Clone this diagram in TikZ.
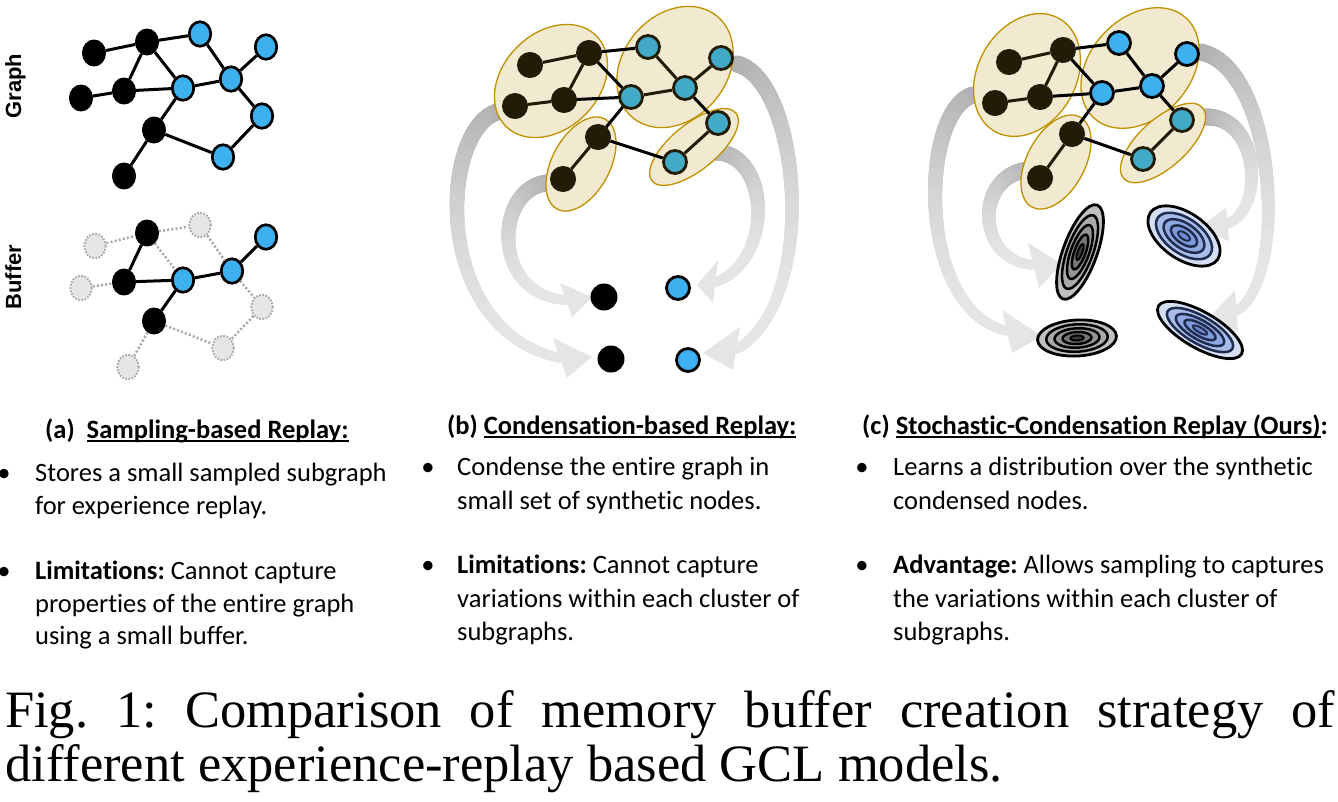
\documentclass[tikz,border=0pt]{standalone}
\usepackage{fontspec}
\setmainfont{Carlito}[Ligatures=NoCommon]
\newfontfamily\capfont{Liberation Serif}
\newfontfamily\lblfont{Liberation Sans}
\usetikzlibrary{shapes.geometric,decorations.markings}
\frenchspacing
\definecolor{nodeblue}{RGB}{61,177,240}
\definecolor{nodeteal}{RGB}{66,169,199}
\definecolor{darknode}{RGB}{35,27,3}
\definecolor{tanfill}{RGB}{242,234,208}
\definecolor{tanline}{RGB}{191,145,0}
\definecolor{ghostfill}{RGB}{230,230,230}
\definecolor{ghostline}{RGB}{168,168,168}
\definecolor{ga}{RGB}{192,192,192}
\definecolor{gb}{RGB}{170,170,170}
\definecolor{gc}{RGB}{148,148,148}
\definecolor{gd}{RGB}{118,118,118}
\definecolor{ge}{RGB}{60,60,60}
\definecolor{ua}{RGB}{212,223,245}
\definecolor{ub}{RGB}{168,188,233}
\definecolor{uc}{RGB}{143,167,224}
\definecolor{ud}{RGB}{126,154,218}
\definecolor{ue}{RGB}{108,138,208}
\definecolor{navy}{RGB}{32,44,78}
\tikzset{
  blk/.style={ellipse, fill=black, draw=black, line width=1pt, minimum width=23pt, minimum height=26pt, inner sep=0pt},
  blu/.style={ellipse, fill=nodeblue, draw=black, line width=2.7pt, minimum width=21.5pt, minimum height=24.5pt, inner sep=0pt},
  ghost/.style={ellipse, fill=ghostfill, draw=ghostline, line width=2pt, dash pattern=on 1.6pt off 1.6pt, minimum width=21.5pt, minimum height=24.5pt, inner sep=0pt},
  cnode/.style={circle, fill=darknode, draw=darknode, line width=1pt, minimum size=25pt, inner sep=0pt},
  tnode/.style={circle, fill=nodeteal, draw=darknode, line width=2.8pt, minimum size=23pt, inner sep=0pt},
  bnode/.style={circle, fill=nodeblue, draw=black, line width=2.8pt, minimum size=23pt, inner sep=0pt},
  kdot/.style={circle, fill=black, minimum size=27pt, inner sep=0pt},
  edg/.style={line width=3pt, black},
  dedg/.style={line width=3pt, darknode},
  gedg/.style={line width=2.5pt, ghostline, dash pattern=on 2pt off 2.2pt},
  clus/.style={fill=tanfill, draw=tanline, line width=1.3pt},
  txt/.style={anchor=base west, inner sep=0pt, font=\fontsize{26.5}{32}\selectfont},
  hd/.style={anchor=base west, inner sep=0pt, font=\fontsize{26.5}{32}\selectfont\bfseries},
  bul/.style={anchor=base, inner sep=0pt, font=\fontsize{26.5}{32}\selectfont},
  gband/.style={postaction={decorate}, decoration={markings,
    mark=between positions 0 and 1 step 1pt with {%
      \pgfmathsetmacro\gt{\pgfkeysvalueof{/pgf/decoration/mark info/distance from start}/\pgfdecoratedpathlength}%
      \pgfmathtruncatemacro\gpc{10+22*(1-\gt)^2}%
      \pgfmathsetmacro\grr{8.5-3.5*\gt}%
      \fill[black!\gpc] (0,0) circle[radius=\grr pt];%
    }}}
}
\newcommand\garrow[7]{\path[gband] #1 .. controls #2 and #3 .. #4; \fill[black!10] #5 -- #6 -- #7 -- cycle;}
\newcommand\gaussring[6]{%
  \begin{scope}[shift={#1}, rotate=#2]
    \filldraw[fill=#5a, draw=black, line width=2.8pt] (0,0) ellipse [x radius=#3, y radius=#4];
    \filldraw[fill=#5b, draw=#6, line width=2.5pt] (0,0) ellipse [x radius=0.78*#3, y radius=0.76*#4];
    \filldraw[fill=#5c, draw=#6, line width=2.5pt] (0,0) ellipse [x radius=0.57*#3, y radius=0.54*#4];
    \filldraw[fill=#5d, draw=#6, line width=2.5pt] (0,0) ellipse [x radius=0.37*#3, y radius=0.33*#4];
    \filldraw[fill=#5e, draw=#6, line width=2pt] (0,0) ellipse [x radius=0.17*#3, y radius=0.14*#4];
  \end{scope}}
\newcommand\myul[1]{\setbox0=\hbox{#1}\rlap{\rule[-4pt]{\wd0}{1.6pt}}\box0}
\begin{document}
\begin{tikzpicture}[x=1pt,y=-1pt,line join=round]
\useasboundingbox (0,0) rectangle (1338,801);
\fill[white] (0,0) rectangle (1338,801);
\clip (0,0) rectangle (1338,801);

% ---------------- panel (a) ----------------
\node[rotate=90, anchor=base, inner sep=0pt, font=\lblfont\bfseries\fontsize{22}{26}\selectfont] (lgraph) at (21,86) {Graph};
\node[rotate=90, anchor=base, inner sep=0pt, font=\lblfont\bfseries\fontsize{22}{26}\selectfont] (lbuffer) at (21,277) {Buffer};

\node[blk] (ab1) at (94,53) {};
\node[blk] (ab2) at (147,42) {};
\node[blk] (ab3) at (81,98) {};
\node[blk] (ab4) at (124,91) {};
\node[blk] (ab5) at (154,130) {};
\node[blk] (ab6) at (124,176) {};
\node[blu] (ac1) at (200,34) {};
\node[blu] (ac2) at (266,47) {};
\node[blu] (ac3) at (183,88) {};
\node[blu] (ac4) at (231,79) {};
\node[blu] (ac5) at (262,116) {};
\node[blu] (ac6) at (223,157) {};
\foreach \u/\v in {ab1/ab2, ab2/ac1, ab2/ab4, ab2/ac3, ab3/ab4, ab4/ac3, ac3/ab5, ac3/ac4, ac1/ac4, ac4/ac2, ac4/ac5, ac5/ac6, ab5/ac6, ab5/ab6}
  \draw[edg] (\u) -- (\v);

\node[ghost] (bg1) at (95,246) {};
\node[ghost] (bg2) at (81,288) {};
\node[ghost] (bg3) at (200,225) {};
\node[ghost] (bg4) at (262,307) {};
\node[ghost] (bg5) at (223,348) {};
\node[ghost] (bg6) at (128,367) {};
\node[blk] (bk1) at (147,233) {};
\node[blk] (bk2) at (124,282) {};
\node[blk] (bk3) at (154,321) {};
\node[blu] (bd1) at (183,280) {};
\node[blu] (bd2) at (232,271) {};
\node[blu] (bd3) at (266,237) {};
\foreach \u/\v in {bg1/bk1, bk1/bg3, bk1/bd1, bg2/bk2, bg3/bd2, bd2/bg4, bg4/bg5, bk3/bg5, bk3/bg6}
  \draw[gedg] (\u) -- (\v);
\foreach \u/\v in {bk1/bk2, bk2/bd1, bd1/bk3, bd1/bd2, bd2/bd3}
  \draw[edg] (\u) -- (\v);

% ---------------- panel (b) ----------------
\garrow{(497,112)}{(440,130)}{(430,330)}{(560,358)}{(592,357)}{(553,338)}{(567,378)}
\garrow{(547,183)}{(495,188)}{(490,295)}{(566,300)}{(592,297)}{(560,283)}{(572,317)}
\garrow{(737,64)}{(800,80)}{(820,300)}{(737,349)}{(703,353)}{(740,327)}{(733,370)}
\garrow{(713,152)}{(770,150)}{(775,260)}{(716,282)}{(697,285)}{(718,260)}{(713,303)}

\draw[clus, rotate around={45:(551,81)}] (551,81) ellipse [x radius=64, y radius=48];
\draw[clus, rotate around={50:(675,67)}] (675,67) ellipse [x radius=66, y radius=52];
\draw[clus, rotate around={62:(581,164)}] (581,164) ellipse [x radius=51, y radius=29];
\draw[clus, rotate around={39:(694,147)}] (694,147) ellipse [x radius=54, y radius=23];

\node[cnode] (bn1) at (530,65) {};
\node[cnode] (bn2) at (589,53) {};
\node[cnode] (bn3) at (515,106) {};
\node[cnode] (bn4) at (564,100) {};
\node[cnode] (bn5) at (598,137) {};
\node[cnode] (bn6) at (563,179) {};
\node[tnode] (bt1) at (648,47) {};
\node[tnode] (bt2) at (721,58) {};
\node[tnode] (bt3) at (631,97) {};
\node[tnode] (bt4) at (685,88) {};
\node[tnode] (bt5) at (718,123) {};
\node[tnode] (bt6) at (675,162) {};
\foreach \u/\v in {bn1/bn2, bn2/bn4, bn3/bn4, bt1/bt4, bt4/bt2, bt3/bt4, bn5/bn6, bt5/bt6}
  \draw[dedg] (\u) -- (\v);
\foreach \u/\v in {bn2/bt1, bn2/bt3, bn4/bt3, bt3/bn5, bt4/bt5, bn5/bt6}
  \draw[edg] (\u) -- (\v);

\node[kdot] (bk01) at (604,297) {};
\node[kdot] (bk02) at (611,359) {};
\node[bnode] (bb01) at (678,288) {};
\node[bnode] (bb02) at (688,360) {};

% ---------------- panel (c) ----------------
\garrow{(973,95)}{(920,110)}{(915,310)}{(1007,331)}{(1042,336)}{(1002,310)}{(1012,353)}
\garrow{(1028,170)}{(975,175)}{(975,260)}{(1033,265)}{(1062,264)}{(1028,243)}{(1039,288)}
\garrow{(1200,52)}{(1275,65)}{(1290,280)}{(1236,311)}{(1205,322)}{(1235,290)}{(1238,332)}
\garrow{(1205,117)}{(1260,115)}{(1265,210)}{(1227,224)}{(1197,229)}{(1226,208)}{(1229,241)}

\draw[clus, rotate around={60:(1027,75)}] (1027,75) ellipse [x radius=65, y radius=49];
\draw[clus, rotate around={47:(1140,68)}] (1140,68) ellipse [x radius=68, y radius=50];
\draw[clus, rotate around={62:(1056,162)}] (1056,162) ellipse [x radius=51, y radius=29];
\draw[clus, rotate around={42:(1163,143)}] (1163,143) ellipse [x radius=53, y radius=24];

\node[cnode] (cn1) at (1009,62) {};
\node[cnode] (cn2) at (1063,50) {};
\node[cnode] (cn3) at (995,103) {};
\node[cnode] (cn4) at (1040,97) {};
\node[cnode] (cn5) at (1072,134) {};
\node[cnode] (cn6) at (1040,178) {};
\node[bnode] (ct1) at (1119,43) {};
\node[bnode] (ct2) at (1187,54) {};
\node[bnode] (ct3) at (1102,93) {};
\node[bnode] (ct4) at (1152,86) {};
\node[tnode] (ct5) at (1182,120) {};
\node[tnode] (ct6) at (1143,159) {};
\foreach \u/\v in {cn1/cn2, cn2/cn4, cn3/cn4, cn5/cn6, ct5/ct6}
  \draw[dedg] (\u) -- (\v);
\foreach \u/\v in {ct1/ct4, ct4/ct2, ct3/ct4, cn2/ct1, cn2/ct3, cn4/ct3, ct3/cn5, ct4/ct5, cn5/ct6}
  \draw[edg] (\u) -- (\v);

\gaussring{(1080,252)}{70}{50}{17}{g}{black}
\gaussring{(1077,338)}{3}{39.5}{18}{g}{black}
\gaussring{(1184,236)}{-35}{41}{23}{u}{navy}
\gaussring{(1200,330)}{-30}{48}{18}{u}{navy}

% ---------------- texts ----------------
\node[hd] (ha) at (45,438) {(a)\hspace{0.45em}\myul{Sampling-based Replay:}};
\node[bul] (ua1) at (4,481) {•};
\node[txt] (ta1) at (35,481) {Stores a small sampled subgraph};
\node[txt] (ta2) at (35,514) {for experience replay.};
\node[bul] (ua2) at (4,579) {•};
\node[txt] (ta3) at (35,579) {\textbf{Limitations:} Cannot capture};
\node[txt] (ta4) at (35,612) {properties of the entire graph};
\node[txt] (ta5) at (35,644) {using a small buffer.};

\node[hd] (hb) at (447,434) {(b) \myul{Condensation-based Replay:}};
\node[bul] (ub1) at (428,475) {•};
\node[txt] (tb1) at (457,475) {Condense the entire graph in};
\node[txt] (tb2) at (457,509) {small set of synthetic nodes.};
\node[bul] (ub2) at (428,573) {•};
\node[txt] (tb3) at (457,573) {\textbf{Limitations:} Cannot capture};
\node[txt] (tb4) at (457,607) {variations within each cluster of};
\node[txt] (tb5) at (457,640) {subgraphs.};

\node[hd] (hc) at (862,434) {(c) \myul{Stochastic-Condensation Replay (Ours)}:};
\node[bul] (uc1) at (862,475) {•};
\node[txt] (tc1) at (893,475) {Learns a distribution over the synthetic};
\node[txt] (tc2) at (893,509) {condensed nodes.};
\node[bul] (uc2) at (862,573) {•};
\node[txt] (tc3) at (893,573) {\textbf{Advantage:} Allows sampling to captures};
\node[txt] (tc4) at (893,607) {the variations within each cluster of};
\node[txt] (tc5) at (893,640) {subgraphs.};

\node[anchor=base west, inner sep=0pt, font=\capfont\fontsize{52.5}{55}\selectfont] (cap1) at (5,727) {\makebox[1330pt][s]{Fig. 1: Comparison of memory buffer creation strategy of}};
\node[anchor=base west, inner sep=0pt, font=\capfont\fontsize{52.5}{55}\selectfont] (cap2) at (5,781) {different experience-replay based GCL models.};
\end{tikzpicture}
\end{document}
